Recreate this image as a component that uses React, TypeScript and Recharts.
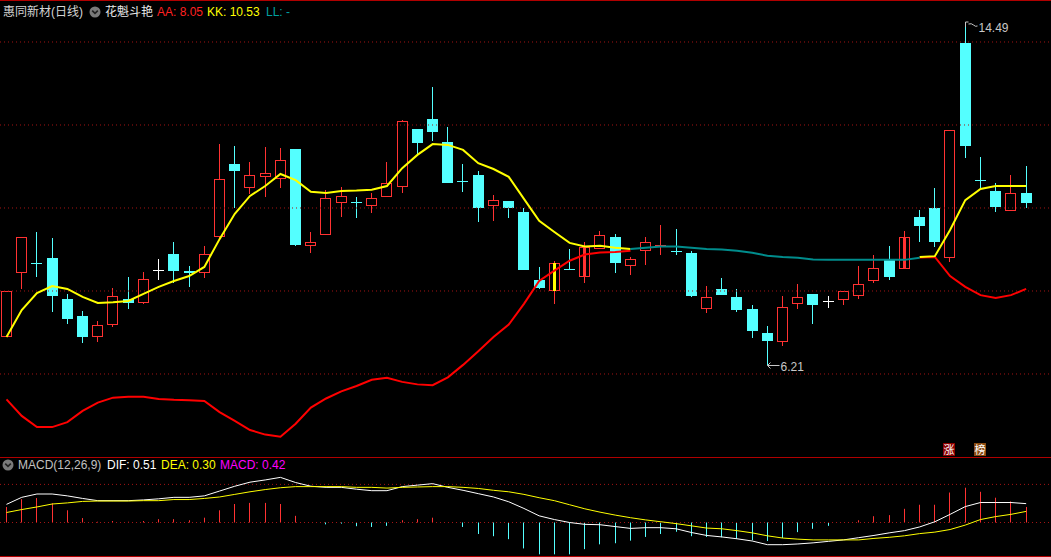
import React from 'react';
import { ComposedChart, Bar, Line, XAxis, YAxis, ReferenceLine, ReferenceDot } from 'recharts';

const N = null;

// ---- candle data (daily OHLC) ----
const opens = [6.89, 8.43, 8.68, 8.80, 7.81, 7.40, 6.88, 7.19, 7.81, 7.72, 8.50, 8.89, 8.47, 8.43, 9.29, 11.06, 10.47, 10.75, 10.71, 11.42, 9.08, 9.34, 10.11, 10.15, 10.06, 10.26, 10.50, 11.90, 12.14, 11.59, 10.64, 10.80, 10.06, 10.17, 9.90, 8.27, 8.01, 8.53, 8.33, 9.00, 9.30, 8.61, 8.97, 9.07, 8.97, 8.92, 7.57, 8.05, 7.86, 7.57, 6.99, 6.78, 7.68, 7.93, 7.75, 7.79, 7.89, 8.25, 8.78, 8.52, 9.78, 10.00, 8.79, 13.98, 10.68, 10.41, 9.93, 10.36];
const highs = [8.00, 9.30, 9.42, 9.28, 7.92, 7.52, 7.27, 8.07, 8.34, 8.46, 8.77, 9.18, 8.61, 9.08, 11.54, 11.49, 11.11, 11.47, 11.45, 11.42, 9.42, 10.43, 10.50, 10.27, 10.36, 11.11, 12.12, 11.90, 12.92, 11.95, 11.06, 10.89, 10.31, 10.17, 10.00, 8.58, 8.72, 9.01, 9.17, 9.45, 9.37, 8.82, 9.30, 9.59, 9.49, 8.96, 8.12, 8.31, 8.05, 7.66, 7.16, 7.88, 8.17, 7.93, 7.88, 7.99, 8.60, 8.87, 9.08, 9.45, 9.95, 10.48, 11.87, 14.49, 11.23, 10.60, 10.80, 11.00];
const lows = [6.89, 8.05, 8.34, 7.50, 7.21, 6.74, 6.78, 7.14, 7.57, 7.69, 8.27, 8.20, 8.10, 8.32, 9.23, 10.01, 10.33, 10.27, 10.49, 9.09, 8.92, 9.34, 9.79, 9.77, 9.89, 10.26, 10.37, 11.25, 11.61, 10.61, 10.39, 9.67, 9.69, 9.77, 8.51, 8.05, 7.69, 8.52, 8.19, 9.00, 8.44, 8.39, 8.63, 8.86, 8.86, 7.86, 7.48, 7.91, 7.50, 6.87, 6.21, 6.68, 7.57, 7.21, 7.60, 7.67, 7.81, 8.20, 8.27, 8.52, 9.19, 9.07, 8.71, 11.21, 10.45, 9.91, 9.93, 10.01];
const closes = [8.00, 9.30, 8.67, 7.89, 7.33, 6.90, 7.17, 7.87, 7.72, 8.29, 8.50, 8.47, 8.43, 8.89, 10.69, 10.90, 10.79, 10.84, 11.15, 9.12, 9.17, 10.23, 10.28, 10.14, 10.23, 10.60, 12.09, 11.57, 11.84, 10.61, 10.63, 10.01, 10.19, 10.01, 8.51, 8.07, 8.67, 8.52, 9.07, 9.34, 8.68, 8.76, 9.17, 9.11, 8.96, 7.89, 7.85, 7.91, 7.55, 7.04, 6.80, 7.61, 7.86, 7.67, 7.75, 7.99, 8.16, 8.55, 8.34, 9.29, 9.57, 9.17, 11.87, 11.50, 10.67, 10.02, 10.36, 10.13];

// ---- 花魁斗艳 indicator lines ----
const aaLine = [5.39, 4.99, 4.72, 4.72, 4.84, 5.11, 5.31, 5.43, 5.45, 5.45, 5.40, 5.38, 5.37, 5.35, 5.08, 4.87, 4.65, 4.54, 4.49, 4.80, 5.19, 5.41, 5.58, 5.71, 5.86, 5.91, 5.81, 5.75, 5.73, 5.92, 6.22, 6.55, 6.89, 7.19, 7.69, 8.24, 8.49, 8.73, 8.88, 8.93, 8.94, 8.97, N, N, N, N, N, N, N, N, N, N, N, N, N, N, N, N, N, N, 8.81, 8.82, 8.36, 8.10, 7.90, 7.83, 7.90, 8.05];
const kkLine = [6.89, 7.54, 7.95, 8.12, 8.05, 7.86, 7.71, 7.73, 7.76, 7.93, 8.10, 8.24, 8.36, 8.58, 9.25, 9.86, 10.29, 10.53, 10.82, 10.67, 10.39, 10.36, 10.41, 10.42, 10.44, 10.53, 10.96, 11.28, 11.54, 11.52, 11.40, 11.08, 10.94, 10.75, 10.22, 9.69, 9.42, 9.16, 9.07, 9.09, 9.04, 9.01, N, N, N, N, N, N, N, N, N, N, N, N, N, N, N, N, N, N, 8.82, 8.84, 9.47, 10.19, 10.46, 10.53, 10.53, 10.53];
const llLine = [N, N, N, N, N, N, N, N, N, N, N, N, N, N, N, N, N, N, N, N, N, N, N, N, N, N, N, N, N, N, N, N, N, N, N, N, N, N, N, N, N, 9.01, 9.04, 9.07, 9.07, 9.04, 9.01, 9.00, 8.97, 8.92, 8.85, 8.82, 8.80, 8.76, 8.75, 8.75, 8.75, 8.75, 8.75, 8.75, 8.80, N, N, N, N, N, N, N];
const yellowStickIdx = [36];
const redStickIdx = [38, 59];
const priceGrid = [6, 8, 10, 12, 14];
const signals = [{ i: 62, text: '涨', kind: 'up' }, { i: 64, text: '榜', kind: 'list' }];

// ---- MACD(12,26,9) ----
const difLine = [0.49, 0.68, 0.77, 0.77, 0.72, 0.65, 0.59, 0.59, 0.59, 0.61, 0.64, 0.68, 0.68, 0.72, 0.85, 0.98, 1.09, 1.15, 1.22, 1.08, 0.98, 0.95, 0.95, 0.90, 0.86, 0.86, 0.97, 1.01, 1.05, 0.95, 0.87, 0.78, 0.69, 0.56, 0.38, 0.18, 0.08, 0.00, -0.05, -0.06, -0.11, -0.16, -0.14, -0.14, -0.17, -0.27, -0.35, -0.39, -0.44, -0.50, -0.60, -0.60, -0.58, -0.55, -0.51, -0.47, -0.41, -0.35, -0.28, -0.22, -0.12, 0.02, 0.22, 0.43, 0.54, 0.54, 0.54, 0.51];
const deaLine = [0.27, 0.35, 0.42, 0.50, 0.53, 0.57, 0.58, 0.58, 0.58, 0.59, 0.59, 0.62, 0.62, 0.65, 0.69, 0.76, 0.83, 0.89, 0.94, 0.97, 0.97, 0.97, 0.97, 0.95, 0.95, 0.93, 0.95, 0.96, 0.97, 0.97, 0.95, 0.92, 0.87, 0.83, 0.76, 0.67, 0.59, 0.48, 0.37, 0.28, 0.20, 0.13, 0.07, 0.02, -0.03, -0.09, -0.15, -0.17, -0.22, -0.28, -0.36, -0.42, -0.45, -0.47, -0.47, -0.47, -0.47, -0.43, -0.40, -0.36, -0.30, -0.26, -0.19, -0.07, 0.08, 0.16, 0.22, 0.30];
const macdHist = [0.42, 0.63, 0.66, 0.52, 0.33, 0.12, 0.02, 0.04, 0.02, 0.04, 0.09, 0.09, 0.06, 0.13, 0.33, 0.50, 0.53, 0.53, 0.50, 0.18, 0.0, -0.05, -0.03, -0.10, -0.12, -0.09, 0.06, 0.09, 0.13, -0.01, -0.12, -0.31, -0.37, -0.45, -0.70, -0.86, -0.86, -0.86, -0.72, -0.59, -0.56, -0.49, -0.39, -0.31, -0.25, -0.37, -0.39, -0.40, -0.44, -0.48, -0.50, -0.42, -0.26, -0.17, -0.09, -0.01, 0.06, 0.17, 0.20, 0.37, 0.48, 0.48, 0.81, 0.94, 0.83, 0.67, 0.57, 0.42];
const macdGrid = [0, 1.03];

const stockName = '惠同新材(日线)';
const indicatorName = '花魁斗艳';

// ---- layout / style ----
const W = 1051;
const MAIN_H = 457;
const MACD_TOP = 457;
const MACD_H = 100;
const X_DOMAIN: [number, number] = [-0.427, 68.632];
const PRICE_DOMAIN: [number, number] = [4.0, 15.012];
const MACD_DOMAIN: [number, number] = [-0.9324, 1.7703];

const RED = '#ff3232';
const CYAN = '#54ffff';
const WHITE = '#ffffff';
const YELLOW = '#ffff00';
const TEAL = '#008c8c';
const GRID = '#a31414';
const FRAME = '#b00000';
const FONT = '"Liberation Sans", Arial, "Noto Sans CJK SC", sans-serif';

const candleData = opens.map((o, i) => ({
  i,
  open: o,
  high: highs[i],
  low: lows[i],
  close: closes[i],
  aa: aaLine[i],
  kk: kkLine[i],
  ll: llLine[i],
}));

const macdData = macdHist.map((m, i) => ({ i, macd: m, dif: difLine[i], dea: deaLine[i] }));

const maxIdx = highs.indexOf(Math.max(...highs));
const minIdx = lows.indexOf(Math.min(...lows));

function Candle(props: any) {
  const { x, y, width, height, payload } = props;
  if (!payload || typeof x !== 'number' || typeof y !== 'number') return null;
  const { open, close, high, low, i } = payload;
  const top = Math.min(y, y + height);
  const span = Math.abs(height);
  const k = high > low ? span / (high - low) : 0;
  const toY = (v: number) => top + (high - v) * k;
  const left = Math.round(x + width / 2 - 5.5);
  const cx = left + 5.5;
  const yHigh = Math.round(top);
  const yLow = Math.round(top + span);
  const yO = Math.round(toY(open));
  const yC = Math.round(toY(close));
  const bTop = Math.min(yO, yC);
  const bBot = Math.max(yO, yC);
  const up = close > open;
  const flat = close === open;
  const color = up ? RED : flat ? WHITE : CYAN;
  const els: any[] = [];
  if (bBot - bTop <= 1) {
    els.push(<line key="w" x1={cx} x2={cx} y1={yHigh} y2={Math.max(yLow, yHigh + 1)} stroke={color} strokeWidth={1} />);
    els.push(<line key="h" x1={left} x2={left + 11} y1={bTop + 0.5} y2={bTop + 0.5} stroke={color} strokeWidth={1} />);
  } else if (up) {
    if (bTop > yHigh) els.push(<line key="wt" x1={cx} x2={cx} y1={yHigh} y2={bTop} stroke={color} strokeWidth={1} />);
    if (yLow > bBot) els.push(<line key="wb" x1={cx} x2={cx} y1={bBot} y2={yLow} stroke={color} strokeWidth={1} />);
    els.push(<rect key="b" x={left + 0.5} y={bTop + 0.5} width={10} height={bBot - bTop - 1} fill="#000" stroke={color} strokeWidth={1} />);
  } else {
    els.push(<line key="w" x1={cx} x2={cx} y1={yHigh} y2={yLow} stroke={color} strokeWidth={1} />);
    els.push(<rect key="b" x={left} y={bTop} width={11} height={bBot - bTop} fill={color} />);
  }
  if (yellowStickIdx.includes(i)) {
    els.push(<rect key="s" x={cx - 1.5} y={bTop} width={3} height={bBot - bTop} fill={YELLOW} />);
  } else if (redStickIdx.includes(i)) {
    els.push(<rect key="s" x={cx - 1.5} y={bTop} width={3} height={bBot - bTop} fill={RED} />);
  }
  return <g>{els}</g>;
}

function MacdBar(props: any) {
  const { x, y, width, height, payload } = props;
  if (!payload || typeof x !== 'number' || typeof y !== 'number') return null;
  const top = Math.min(y, y + height);
  const h = Math.abs(height);
  if (h < 0.5) return null;
  const col = Math.round(x + width / 2 - 5.5) + 5;
  return <rect x={col} y={top} width={1} height={h} fill={payload.macd >= 0 ? RED : CYAN} />;
}

function HighMark(props: any) {
  const { cx, cy } = props;
  const px = Math.round(cx - 0.5) + 0.5;
  const py = Math.round(cy);
  return (
    <g>
      <path d={`M${px},${py + 5} L${px},${py} L${px + 3},${py}`} stroke="#c8c8c8" fill="none" strokeWidth={1} />
      <path d={`M${px + 3},${py + 2} Q${px + 6},${py + 1} ${px + 8},${py + 3} T${px + 12},${py + 4}`} stroke="#c8c8c8" fill="none" strokeWidth={1} />
      <text x={px + 13} y={py + 9.5} fill="#c8c8c8" fontSize={12} fontFamily={FONT}>{highs[maxIdx].toFixed(2)}</text>
    </g>
  );
}

function LowMark(props: any) {
  const { cx, cy } = props;
  const px = Math.round(cx - 0.5) + 0.5;
  const py = Math.round(cy) + 0.5;
  return (
    <g>
      <path d={`M${px},${py} L${px + 12},${py} M${px},${py} L${px + 3},${py - 3} M${px},${py} L${px + 3},${py + 3}`} stroke="#c8c8c8" fill="none" strokeWidth={1} />
      <text x={px + 13} y={py + 5.5} fill="#c8c8c8" fontSize={12} fontFamily={FONT}>{lows[minIdx].toFixed(2)}</text>
    </g>
  );
}

function SignalBadge(props: any) {
  const { cx, cy, kind, text } = props;
  const bg = kind === 'up' ? '#8c0000' : '#8a4a10';
  const left = Math.round(cx - 7);
  return (
    <g>
      <rect x={left} y={Math.round(cy) - 6} width={12} height={13} fill={bg} />
      <text x={left + 6} y={Math.round(cy) + 4.5} fill="#ffffff" fontSize={11} textAnchor="middle" fontFamily={FONT}>{text}</text>
    </g>
  );
}

const Icon = ({ x, y }: { x: number; y: number }) => (
  <svg width={12} height={12} style={{ position: 'absolute', left: x, top: y }}>
    <circle cx={6} cy={6} r={5.5} fill="#7a7a7a" />
    <path d="M3.2,4.6 L6,7.4 L8.8,4.6" stroke="#222" strokeWidth={1.6} fill="none" />
  </svg>
);

const txt = (left: number, top: number, color: string, s: string, key: string) => (
  <div key={key} style={{ position: 'absolute', left, top, color, fontSize: 12, lineHeight: '14px', fontFamily: FONT, whiteSpace: 'nowrap' }}>{s}</div>
);

export default function App() {
  const last = opens.length - 1;
  return (
    <div style={{ position: 'absolute', left: 0, top: 0, width: W, height: 557, background: '#000', overflow: 'hidden' }}>
      <div style={{ position: 'absolute', left: 0, top: 0 }}>
        <ComposedChart width={W} height={MAIN_H} data={candleData} margin={{ top: 0, right: 0, bottom: 0, left: 0 }}>
          <XAxis dataKey="i" type="number" domain={X_DOMAIN} allowDataOverflow hide />
          <YAxis type="number" domain={PRICE_DOMAIN} allowDataOverflow hide />
          {priceGrid.map((p) => (
            <ReferenceLine key={p} y={p} stroke={GRID} strokeDasharray="1 3" strokeWidth={1} />
          ))}
          <Bar dataKey={(d: any) => [d.low, d.high]} barSize={11} shape={Candle} isAnimationActive={false} />
          <Line dataKey="aa" stroke="#ff0000" strokeWidth={2} dot={false} activeDot={false} isAnimationActive={false} type="linear" />
          <Line dataKey="kk" stroke={YELLOW} strokeWidth={2} dot={false} activeDot={false} isAnimationActive={false} type="linear" />
          <Line dataKey="ll" stroke={TEAL} strokeWidth={2} dot={false} activeDot={false} isAnimationActive={false} type="linear" />
          <ReferenceDot x={maxIdx} y={highs[maxIdx]} shape={HighMark} />
          <ReferenceDot x={minIdx} y={lows[minIdx]} shape={LowMark} />
          {signals.map((s) => (
            <ReferenceDot key={s.i} x={s.i} y={4.19} shape={(p: any) => <SignalBadge {...p} kind={s.kind} text={s.text} />} />
          ))}
        </ComposedChart>
      </div>
      <div style={{ position: 'absolute', left: 0, top: MACD_TOP }}>
        <ComposedChart width={W} height={MACD_H} data={macdData} margin={{ top: 0, right: 0, bottom: 0, left: 0 }}>
          <XAxis dataKey="i" type="number" domain={X_DOMAIN} allowDataOverflow hide />
          <YAxis type="number" domain={MACD_DOMAIN} allowDataOverflow hide />
          {macdGrid.map((v) => (
            <ReferenceLine key={v} y={v} stroke={GRID} strokeDasharray="1 3" strokeWidth={1} />
          ))}
          <Bar dataKey="macd" barSize={1} shape={MacdBar} isAnimationActive={false} />
          <Line dataKey="dif" stroke={WHITE} strokeWidth={1} dot={false} activeDot={false} isAnimationActive={false} type="linear" />
          <Line dataKey="dea" stroke={YELLOW} strokeWidth={1} dot={false} activeDot={false} isAnimationActive={false} type="linear" />
        </ComposedChart>
      </div>
      {/* frame lines */}
      <div style={{ position: 'absolute', left: 0, top: 0, width: W, height: 1, background: FRAME }} />
      <div style={{ position: 'absolute', left: 0, top: MACD_TOP, width: W, height: 1, background: FRAME }} />
      <div style={{ position: 'absolute', left: 0, top: 556, width: W, height: 1, background: FRAME }} />
      {/* main header */}
      {txt(3, 5, '#d4d4d4', stockName, 'name')}
      <Icon x={89} y={6} />
      {txt(105, 5, '#e6e6e6', indicatorName, 'ind')}
      {txt(157, 5, '#ff2020', `AA: ${(aaLine[last] as number).toFixed(2)}`, 'aa')}
      {txt(207, 5, YELLOW, `KK: ${(kkLine[last] as number).toFixed(2)}`, 'kk')}
      {txt(266, 5, '#00a0a0', `LL: ${llLine[last] == null ? '-' : (llLine[last] as number).toFixed(2)}`, 'll')}
      {/* MACD header */}
      <Icon x={2} y={459} />
      {txt(18, 458, '#c0c0c0', 'MACD(12,26,9)', 'mh')}
      {txt(107, 458, WHITE, `DIF: ${difLine[last].toFixed(2)}`, 'dif')}
      {txt(161, 458, YELLOW, `DEA: ${deaLine[last].toFixed(2)}`, 'dea')}
      {txt(220, 458, '#ff00ff', `MACD: ${macdHist[last].toFixed(2)}`, 'macd')}
    </div>
  );
}
